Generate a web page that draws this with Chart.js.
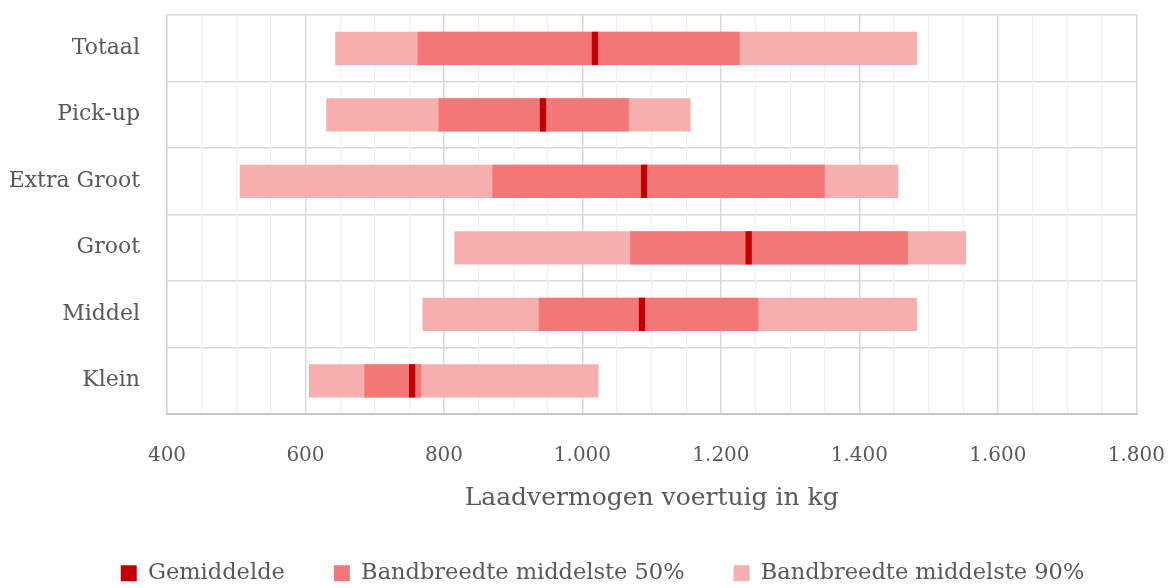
<!DOCTYPE html>
<html lang="nl">
<head>
<meta charset="UTF-8">
<title>Laadvermogen voertuig</title>
<script src="https://cdn.jsdelivr.net/npm/chart.js"></script>
<style>
  body { margin: 0; background: #fff; }
  #wrap { width: 1171px; height: 588px; }
</style>
</head>
<body>
<div id="wrap"><canvas id="chart"></canvas></div>
<script>
// data (kg)
const categories = ['Totaal', 'Pick-up', 'Extra Groot', 'Groot', 'Middel', 'Klein'];
const p5  = [643, 630, 505, 815, 769, 605];
const p25 = [762, 792, 870, 1069, 937, 685];
const gemiddelde = [1018, 943, 1089, 1240, 1086, 754];
const p75 = [1227, 1067, 1350, 1470, 1254, 767];
const p95 = [1483, 1156, 1456, 1554, 1483, 1023];
const xMin = 400, xMax = 1800, labelStep = 200, minorStep = 50;

const markerHalf = 4.5; // half width of the mean marker, kg
const font = 'DejaVu Serif';
const textColor = '#595959';

function nl(v) {
  if (v < 1000) return String(v);
  return Math.floor(v / 1000) + '.' + String(v % 1000).padStart(3, '0');
}

// legend sits a bit right of the canvas centre in the original
const legendShift = {
  id: 'legendShift',
  afterLayout(c) { c.legend.left += 17; c.legend.right += 17; }
};

const chart = new Chart(document.getElementById('chart'), {
  type: 'bar',
  data: {
    labels: categories,
    datasets: [
      { label: 'Gemiddelde', data: gemiddelde.map(m => [m - markerHalf, m + markerHalf]),
        backgroundColor: '#c00000' },
      { label: 'Bandbreedte middelste 50%', data: p25.map((v, i) => [v, p75[i]]),
        backgroundColor: '#f47778' },
      { label: 'Bandbreedte middelste 90%', data: p5.map((v, i) => [v, p95[i]]),
        backgroundColor: '#f7aeae' }
    ]
  },
  plugins: [legendShift],
  options: {
    indexAxis: 'y',
    responsive: true,
    maintainAspectRatio: false,
    animation: false,
    datasets: { bar: { barPercentage: 0.5, categoryPercentage: 1, borderWidth: 0 } },
    layout: { padding: { top: 15, right: 0, left: 0, bottom: 0 } },
    scales: {
      y: {
        stacked: true,
        grid: { color: '#d9d9d9', lineWidth: 1.5, tickLength: 27, tickColor: 'rgba(0,0,0,0)' },
        border: { color: '#d9d9d9', width: 1.5 },
        ticks: { color: textColor, padding: 0, font: { family: font, size: 22 } },
        afterFit: s => { s.width = 167; }
      },
      x: {
        min: xMin, max: xMax,
        grid: {
          tickLength: 24, tickColor: 'rgba(0,0,0,0)',
          color: c => (c.tick && c.tick.value % labelStep === 0) ? '#d9d9d9' : '#f0f0f0',
          lineWidth: c => (c.tick && c.tick.value % labelStep === 0) ? 1.5 : 1.2
        },
        border: { color: '#c6c6c6', width: 2 },
        ticks: {
          stepSize: minorStep, autoSkip: false, maxRotation: 0,
          color: textColor, padding: 6, font: { family: font, size: 20 },
          callback: v => v % labelStep === 0 ? nl(v) : ''
        },
        title: {
          display: true, text: 'Laadvermogen voertuig in kg', color: textColor,
          font: { family: font, size: 25 }, padding: { top: 0, bottom: 0 }
        },
        afterFit: s => { s.height = 99; }
      }
    },
    plugins: {
      tooltip: { enabled: false },
      legend: {
        position: 'bottom',
        maxHeight: 75,
        labels: {
          color: textColor, boxWidth: 16, boxHeight: 16, padding: 49,
          font: { family: font, size: 22.5 }
        }
      }
    }
  }
});
</script>
</body>
</html>
